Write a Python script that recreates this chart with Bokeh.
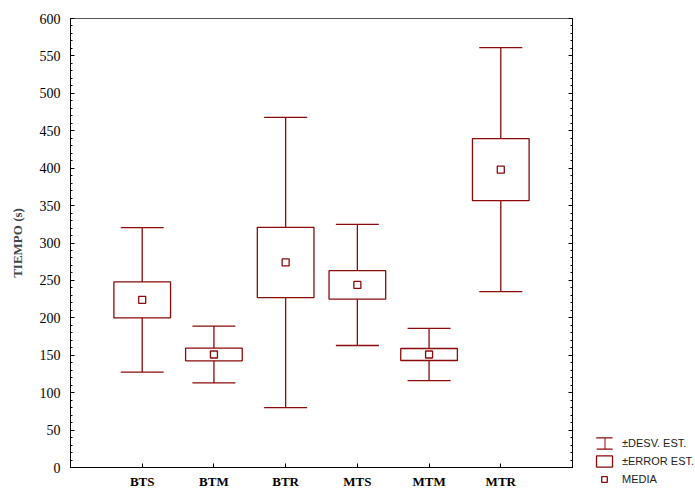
from bokeh.plotting import figure
from bokeh.layouts import row, column
from bokeh.models import (ColumnDataSource, FactorRange, Whisker, TeeHead, Legend, LegendItem,
                          LinearAxis, SingleIntervalTicker, Range1d)
from bokeh.embed import file_html
from bokeh.resources import INLINE

cats = ["BTS", "BTM", "BTR", "MTS", "MTM", "MTR"]
media = [224, 151, 274, 244, 151, 398]
error_est = [24, 8.5, 47, 19, 8, 41.5]
desv_est = [96.5, 38, 194, 81, 35, 163]
legend_labels = ["\u00b1DESV. EST.", "\u00b1ERROR EST.", "MEDIA"]

COL = "#8B0A0A"
SERIF = "Liberation Serif"
SANS = "Liberation Sans"

src = ColumnDataSource(dict(
    cats=cats,
    media=media,
    se_lo=[m - e for m, e in zip(media, error_est)],
    se_hi=[m + e for m, e in zip(media, error_est)],
    sd_lo=[m - s for m, s in zip(media, desv_est)],
    sd_hi=[m + s for m, s in zip(media, desv_est)],
))

p = figure(width=590, height=491, output_backend="svg", toolbar_location=None,
           x_range=FactorRange(*cats, range_padding=0.5, range_padding_units="absolute"),
           y_range=Range1d(0, 600),
           min_border_left=70, min_border_right=18, min_border_top=18, min_border_bottom=22)
p.grid.visible = False
p.outline_line_color = "#555555"
p.background_fill_color = "white"
p.border_fill_color = "white"

whisk = Whisker(source=src, base="cats", lower="sd_lo", upper="sd_hi", dimension="height",
                line_color=COL, line_width=1.3, level="underlay",
                upper_head=TeeHead(size=43, line_color=COL, line_width=1.3),
                lower_head=TeeHead(size=43, line_color=COL, line_width=1.3))
p.add_layout(whisk)

box = p.vbar(x="cats", bottom="se_lo", top="se_hi", width=0.79, source=src,
             fill_color="white", line_color=COL, line_width=1.3)
mean = p.scatter(x="cats", y="media", source=src, marker="square", size=7,
                 fill_color="white", line_color=COL, line_width=1.3)

# axes
ya = p.yaxis[0]
ya.ticker = SingleIntervalTicker(interval=50, num_minor_ticks=5)
ya.axis_label = "TIEMPO (s)"
ya.axis_label_text_font = SERIF
ya.axis_label_text_font_style = "bold"
ya.axis_label_text_font_size = "13px"
ya.axis_label_standoff = 12
ya.major_label_text_font = SERIF
ya.major_label_text_font_size = "14px"
ya.major_label_text_color = "black"
ya.major_label_standoff = 10
ya.major_tick_in = 4
ya.major_tick_out = 0
ya.minor_tick_in = 2
ya.minor_tick_out = 0
ya.axis_line_color = "black"
ya.major_tick_line_color = "black"
ya.minor_tick_line_color = "black"

ra = LinearAxis(ticker=SingleIntervalTicker(interval=50, num_minor_ticks=5))
ra.major_label_text_color = None
ra.major_label_text_font_size = "0px"
ra.major_tick_in = 4
ra.major_tick_out = 0
ra.minor_tick_in = 2
ra.minor_tick_out = 0
ra.major_label_standoff = 0
ra.axis_line_color = "black"
p.add_layout(ra, "right")

xa = p.xaxis[0]
xa.major_label_text_font = SERIF
xa.major_label_text_font_style = "bold"
xa.major_label_text_font_size = "13px"
xa.major_label_text_color = "black"
xa.major_label_standoff = 6
xa.major_tick_in = 4
xa.major_tick_out = 0
xa.axis_line_color = "black"
xa.major_tick_line_color = "black"

# ---- legend panel (a plain figure holding only the legend) ----
pl = figure(width=105, height=491, output_backend="svg", toolbar_location=None,
            x_axis_location=None, y_axis_location=None,
            x_range=Range1d(0, 1), y_range=Range1d(0, 1),
            min_border=0, min_border_left=0, min_border_right=0,
            min_border_top=0, min_border_bottom=0)
pl.grid.visible = False
pl.outline_line_color = None
pl.background_fill_color = "white"
pl.border_fill_color = "white"

# hidden renderers used only to draw the legend icons
caps = pl.vbar(x=[0], bottom=[0], top=[0], width=0.1, fill_color=None,
               line_color=COL, line_width=1.3, line_dash="16 11", visible=False)
stem = pl.segment(x0=[0], y0=[0], x1=[0], y1=[0], line_color=COL,
                  line_width=11, line_cap="butt", line_dash="1 99", line_dash_offset=90,
                  visible=False)
box_icon = pl.vbar(x=[0], bottom=[0], top=[0], width=0.1, fill_color="white",
                   line_color=COL, line_width=1.3, visible=False)
mean_icon = pl.scatter(x=[0], y=[0], marker="square", size=7, fill_color="white",
                       line_color=COL, line_width=1.3, visible=False)

leg = Legend(items=[LegendItem(label=legend_labels[0], renderers=[caps, stem]),
                    LegendItem(label=legend_labels[1], renderers=[box_icon]),
                    LegendItem(label=legend_labels[2], renderers=[mean_icon])],
             location=(4, 5), glyph_width=20, glyph_height=14, spacing=4,
             label_standoff=8, label_height=10,
             label_text_font=SANS, label_text_font_size="11px", label_text_color="#222222",
             padding=0, margin=0, border_line_color=None, background_fill_alpha=0)
pl.add_layout(leg)

layout = row(p, column(pl, spacing=0), spacing=0)
open("out.html", "w").write(file_html(layout, INLINE))
